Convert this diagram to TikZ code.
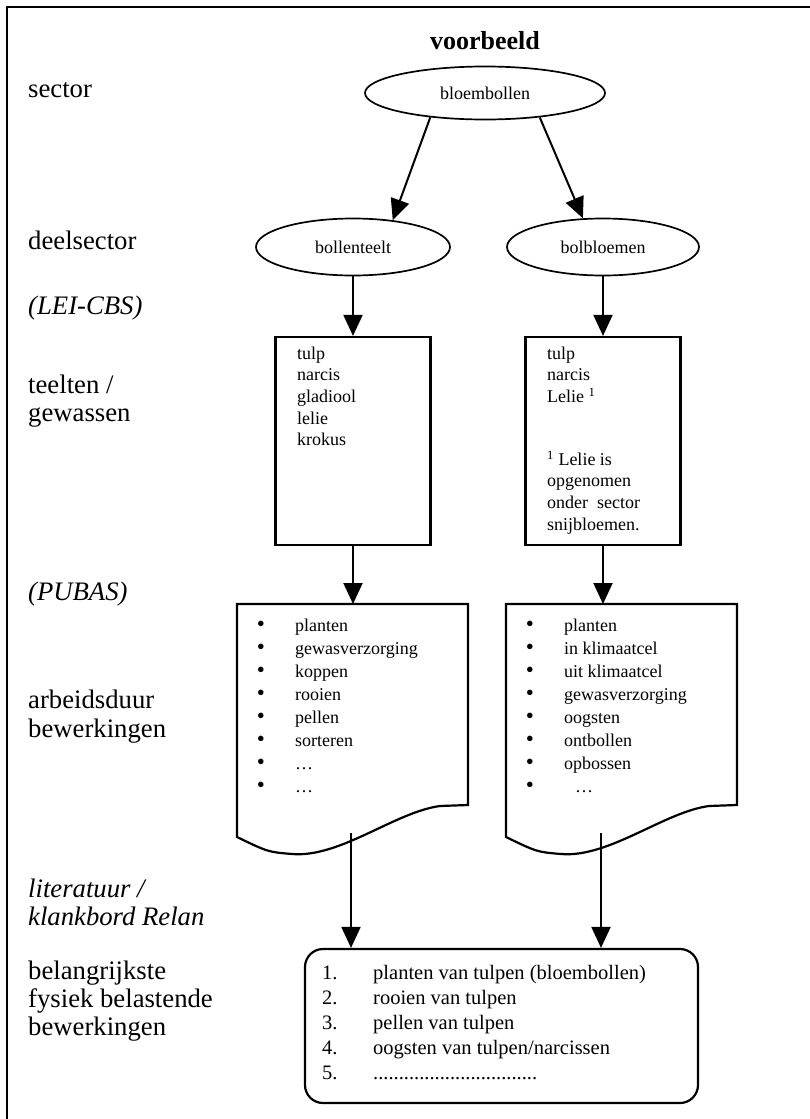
\documentclass[tikz,border=0pt]{standalone}
\usepackage{fontspec}
\setmainfont{Liberation Serif}
\usetikzlibrary{shapes.geometric,arrows.meta}

\begin{document}
\begin{tikzpicture}[x=1pt,y=-1pt,
  lbl/.style={anchor=mid west,inner sep=0pt,font=\fontsize{26.7}{28.5}\selectfont},
  ilbl/.style={lbl,font=\fontsize{26.7}{28.5}\selectfont\itshape},
  itm/.style={anchor=mid west,inner sep=0pt,font=\fontsize{18}{21.6}\selectfont},
  bul/.style={anchor=mid,inner sep=0pt,font=\fontsize{23}{23}\selectfont},
  sitm/.style={anchor=mid west,inner sep=0pt,font=\fontsize{20.5}{25}\selectfont},
  ell/.style={ellipse,draw,line width=1.7pt,inner sep=0pt,font=\fontsize{18}{21.6}\selectfont},
  box/.style={draw,line width=2.2pt,inner sep=0pt},
  arr/.style={line width=2pt,-{Triangle[length=21pt,width=19pt]}}]
\useasboundingbox (0,0) rectangle (809,1119);
\draw[line width=1.8pt] (7,1130) -- (7,7) -- (820,7);

% left column
\node[lbl] (lsector) at (28,95) {sector};
\node[lbl] (ldeel) at (28,247) {deelsector};
\node[ilbl] (llei) at (28,312) {(LEI-CBS)};
\node[lbl] (lteelt) at (28,391) {teelten /};
\node[lbl] (lgewas) at (28,419) {gewassen};
\node[ilbl] (lpubas) at (28,598) {(PUBAS)};
\node[lbl] (larb) at (28,706) {arbeidsduur};
\node[lbl] (lbew) at (28,735) {bewerkingen};
\node[ilbl] (llit) at (28,895) {literatuur /};
\node[ilbl] (lklank) at (28,923) {klankbord Relan};
\node[lbl] (lbel) at (28,977) {belangrijkste};
\node[lbl] (lfys) at (28,1005) {fysiek belastende};
\node[lbl] (lbew2) at (28,1033) {bewerkingen};

\node[font=\fontsize{26}{28}\selectfont\bfseries] (title) at (485,41) {voorbeeld};

% ellipses
\node[ell,minimum width=240pt,minimum height=53pt] (bloem) at (485,93) {bloembollen};
\node[ell,minimum width=194pt,minimum height=57pt] (bollen) at (353,247) {bollenteelt};
\node[ell,minimum width=192pt,minimum height=57pt] (bolbl) at (603,247) {bolbloemen};
\draw[arr] (bloem.204) -- (bollen.34);
\draw[arr] (bloem.336) -- (bolbl.125);

% teelten
\node[box,minimum width=155pt,minimum height=208pt] (boxL) at (353,441) {};
\node[box,minimum width=155pt,minimum height=208pt] (boxR) at (603,441) {};
\draw[arr] (bollen.south) -- (boxL.north);
\draw[arr] (bolbl.south) -- (boxR.north);

\foreach \t [count=\i] in {tulp,narcis,gladiool,lelie,krokus}
  \node[itm] (gL\i) at (297,{335.4+21.6*\i}) {\t};
\foreach \t [count=\i] in {tulp,narcis,Lelie \textsuperscript{1}}
  \node[itm] (gR\i) at (547,{335.4+21.6*\i}) {\t};
\foreach \t [count=\i] in {\textsuperscript{1} Lelie is,opgenomen,onder\ \ sector,snijbloemen.}
  \node[itm] (fR\i) at (547,{441.4+21.6*\i}) {\t};

% bewerkingen
\foreach \dx/\nm in {0/docL,269/docR}{
  \coordinate (\nm) at (237+\dx,604);
  \draw[box] (\nm) -- (468+\dx,604) -- (468+\dx,805) -- (440+\dx,806)
    .. controls (395+\dx,812) and (340+\dx,858) .. (292+\dx,854)
    .. controls (268+\dx,852) .. (237+\dx,837) -- cycle;
}
\draw[arr] (boxL.south) -- (boxL.south |- docL);
\draw[arr] (boxR.south) -- (boxR.south |- docR);

\foreach \t [count=\i] in {planten,gewasverzorging,koppen,rooien,pellen,sorteren,\dots,\dots}{
  \node[bul] (bL\i) at (261,{606+23*\i}) {\textbullet};
  \node[itm] (wL\i) at (295,{606+23*\i}) {\t};
}
\foreach \t [count=\i] in {planten,in klimaatcel,uit klimaatcel,gewasverzorging,oogsten,ontbollen,opbossen,\hspace{11pt}\dots}{
  \node[bul] (bR\i) at (530,{606+23*\i}) {\textbullet};
  \node[itm] (wR\i) at (564,{606+23*\i}) {\t};
}

% samenvatting
\coordinate (docLout) at (351,833);
\coordinate (docRout) at (601,833);
\node[box,rounded corners=18pt,minimum width=393pt,minimum height=154pt] (sum) at (501.5,1026) {};
\draw[arr] (docLout) -- (docLout |- sum.north);
\draw[arr] (docRout) -- (docRout |- sum.north);

\node[sitm] (n1) at (322,977) {1.};
\node[sitm] (n2) at (322,1002) {2.};
\node[sitm] (n3) at (322,1027) {3.};
\node[sitm] (n4) at (322,1052) {4.};
\node[sitm] (n5) at (322,1077) {5.};
\node[sitm] (s1) at (373,977) {planten van tulpen (bloembollen)};
\node[sitm] (s2) at (373,1002) {rooien van tulpen};
\node[sitm] (s3) at (373,1027) {pellen van tulpen};
\node[sitm] (s4) at (373,1052) {oogsten van tulpen/narcissen};
\node[sitm] (s5) at (373,1077) {................................};
\end{tikzpicture}
\end{document}
